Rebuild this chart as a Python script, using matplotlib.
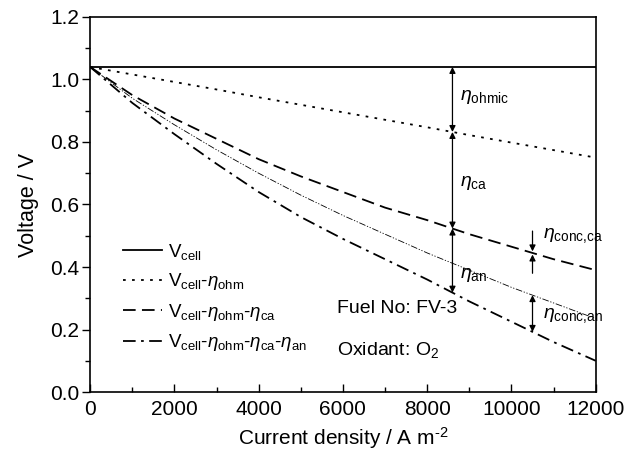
import matplotlib
matplotlib.use("Agg")
import matplotlib.pyplot as plt
import numpy as np

plt.rcParams['font.family'] = ['Liberation Sans', 'DejaVu Sans']
plt.rcParams['mathtext.fontset'] = 'custom'
plt.rcParams['mathtext.rm'] = 'Liberation Sans'
plt.rcParams['mathtext.it'] = 'Liberation Sans:italic'

# current density (A m-2) and voltages
current = [0, 1000, 2000, 3000, 4000, 5000, 6000, 7000, 8000, 9000, 10000, 11000, 12000]
v_cell = [1.04] * 13
v_ohm = [1.04, 1.016, 0.992, 0.968, 0.943, 0.919, 0.895, 0.871, 0.847, 0.822, 0.798, 0.774, 0.75]
v_ca = [1.04, 0.95, 0.875, 0.81, 0.745, 0.69, 0.64, 0.59, 0.55, 0.505, 0.465, 0.425, 0.39]
v_conc = [1.04, 0.94, 0.855, 0.775, 0.70, 0.63, 0.565, 0.505, 0.445, 0.39, 0.335, 0.285, 0.235]
v_an = [1.04, 0.925, 0.825, 0.73, 0.64, 0.56, 0.49, 0.425, 0.36, 0.29, 0.225, 0.16, 0.10]

# where the overpotential arrows sit
x_arrow1 = 8600
x_arrow2 = 10500

fig = plt.figure(figsize=(6.44, 4.58), dpi=100)
ax = fig.add_axes([0.14, 0.144, 0.785, 0.819])

ax.plot(current, v_cell, color='black', lw=1.3, label='V$_\\mathrm{cell}$')
ax.plot(current, v_ohm, color='black', lw=1.3, linestyle=(0, (1.5, 3.5)),
        label='V$_\\mathrm{cell}$-$\\eta_\\mathrm{ohm}$')
ax.plot(current, v_ca, color='black', lw=1.3, linestyle=(0, (7, 3.5)),
        label='V$_\\mathrm{cell}$-$\\eta_\\mathrm{ohm}$-$\\eta_\\mathrm{ca}$')
ax.plot(current, v_conc, color='black', lw=0.6, linestyle=(0, (8, 2, 1.5, 2, 1.5, 2)))
ax.plot(current, v_an, color='black', lw=1.3, linestyle=(0, (7, 3, 1.5, 3)),
        label='V$_\\mathrm{cell}$-$\\eta_\\mathrm{ohm}$-$\\eta_\\mathrm{ca}$-$\\eta_\\mathrm{an}$')

# overpotential arrows
def arr(x, y0, y1, style='<|-|>'):
    ax.annotate('', xy=(x, y1), xytext=(x, y0),
                arrowprops=dict(arrowstyle=style, color='black', lw=0.9,
                                mutation_scale=9, shrinkA=0, shrinkB=0))

y_ohm1 = np.interp(x_arrow1, current, v_ohm)
y_ca1 = np.interp(x_arrow1, current, v_ca)
y_an1 = np.interp(x_arrow1, current, v_an)
arr(x_arrow1, 1.04, y_ohm1)
arr(x_arrow1, y_ohm1, y_ca1)
arr(x_arrow1, y_ca1, y_an1)

y_ca2 = np.interp(x_arrow2, current, v_ca)
y_conc2 = np.interp(x_arrow2, current, v_conc)
y_an2 = np.interp(x_arrow2, current, v_an)
arr(x_arrow2, y_ca2 + 0.07, y_ca2 + 0.005, style='-|>')
arr(x_arrow2, y_ca2 - 0.065, y_ca2 - 0.005, style='-|>')
arr(x_arrow2, y_conc2, y_an2)

fs = 15
afs = 14
ax.text(8775, 0.945, '$\\eta_\\mathrm{ohmic}$', fontsize=afs, va='center')
ax.text(8775, 0.67, '$\\eta_\\mathrm{ca}$', fontsize=afs, va='center')
ax.text(8775, 0.375, '$\\eta_\\mathrm{an}$', fontsize=afs, va='center')
ax.text(10740, 0.50, '$\\eta_\\mathrm{conc{,}ca}$', fontsize=afs, va='center')
ax.text(10740, 0.245, '$\\eta_\\mathrm{conc{,}an}$', fontsize=afs, va='center')
ax.text(5860, 0.266, 'Fuel No: FV-3', fontsize=afs, va='center')
ax.text(5860, 0.135, 'Oxidant: O$_2$', fontsize=afs, va='center')

ax.set_xlim(0, 12000)
ax.set_ylim(0, 1.2)
ax.set_xticks(np.arange(0, 12001, 2000))
ax.set_xticks(np.arange(1000, 12000, 2000), minor=True)
ax.set_yticks(np.arange(0, 1.21, 0.2))
ax.set_yticks(np.arange(0.1, 1.2, 0.2), minor=True)
ax.yaxis.set_major_formatter(plt.FormatStrFormatter('%.1f'))
ax.tick_params(axis='x', which='both', direction='in', labelsize=fs, pad=6)
ax.tick_params(axis='y', which='both', direction='out', labelsize=fs, pad=2)
ax.tick_params(which='major', length=6, width=1)
ax.tick_params(which='minor', length=3.5, width=1)
for s in ax.spines.values():
    s.set_linewidth(1.2)

ax.set_xlabel('Current density / A m$^{\\text{-}2}$', fontsize=fs, labelpad=4)
ax.set_ylabel('Voltage / V', fontsize=fs + 0.5, labelpad=8)

ax.legend(loc='center left', bbox_to_anchor=(0.065, 0.252), frameon=False, fontsize=13.5,
          handlelength=2.1, handletextpad=0.3, labelspacing=0.5,
          borderpad=0, borderaxespad=0)

fig.savefig('out.png', dpi=100)
